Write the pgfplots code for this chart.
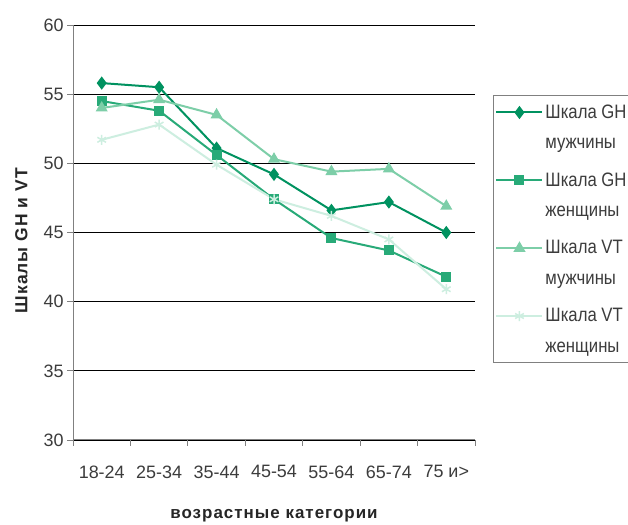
\documentclass[border=0pt]{standalone}
\usepackage{fontspec}
\setmainfont{Liberation Sans}
\newfontfamily\labfont{Liberation Sans}[LetterSpace=6]
\newfontfamily\legfont{Liberation Sans}[FakeStretch=0.86]
\usepackage{pgfplots}
\pgfplotsset{compat=1.18}
\definecolor{ghm}{RGB}{0,146,96}
\definecolor{ghw}{RGB}{40,170,120}
\definecolor{vtm}{RGB}{125,206,168}
\definecolor{vtw}{RGB}{205,238,224}
\definecolor{txt}{RGB}{60,60,60}
\begin{document}
\begin{tikzpicture}[x=1bp,y=1bp]
\useasboundingbox (0,0) rectangle (628,525);
\clip (0,0) rectangle (628,525);
\fill[white] (0,0) rectangle (628,525);
\begin{axis}[
  scale only axis, width=402bp, height=415bp,
  at={(73bp,85bp)}, anchor=south west,
  xmin=-0.5, xmax=6.5, ymin=30, ymax=60,
  xtick={-0.5,0.5,...,6.5},
  x tick label as interval,
  xticklabels={18-24,25-34,35-44,45-54,55-64,65-74,75 и>},
  ytick={30,35,...,60},
  axis x line*=bottom, axis y line*=left,
  axis line style={gray, line width=1bp},
  ymajorgrids, grid style={black, line width=0.9bp},
  tick align=outside, major tick length=6bp,
  tick style={gray, line width=0.8bp},
  /pgf/number format/assume math mode=true,
  tick label style={font=\fontsize{18}{20}\selectfont, text=txt},
  xticklabel style={yshift=-16bp},
  ylabel={\labfont\bfseries\fontsize{17.5}{20}\selectfont Шкалы GH и VT},
  xlabel={\labfont\bfseries\fontsize{17}{20}\selectfont возрастные категории},
  ylabel style={text=black!85, at={(axis description cs:0,0.48)}, yshift=42bp},
  xlabel style={text=black!85, yshift=-24bp},
  legend style={at={(1.045,0.831)}, anchor=north west, draw=gray, line width=0.8bp,
    font=\legfont\fontsize{19.5}{28}\selectfont, text=txt,
    cells={anchor=west, align=left}, row sep=18bp, inner xsep=2bp, inner ysep=7bp},
  legend image code/.code={
    \path (0bp,-15.5bp) (46bp,15.5bp);
    \draw[#1, mark repeat=2, mark phase=2, yshift=15bp] plot coordinates {(0bp,0bp) (23bp,0bp) (46bp,0bp)};},
  every axis plot/.append style={line width=2bp},
]
\addplot[ghm, mark=diamond*, mark size=5bp] coordinates {(0,55.8) (1,55.5) (2,51.1) (3,49.2) (4,46.6) (5,47.2) (6,45.0)};
\addlegendentry{Шкала GH\\[3bp]мужчины}
\addplot[ghw, mark=square*, mark size=4bp] coordinates {(0,54.5) (1,53.8) (2,50.6) (3,47.4) (4,44.6) (5,43.7) (6,41.8)};
\addlegendentry{Шкала GH\\[3bp]женщины}
\addplot[vtm, mark=triangle*, mark size=5bp] coordinates {(0,54.0) (1,54.6) (2,53.5) (3,50.3) (4,49.4) (5,49.6) (6,46.9)};
\addlegendentry{Шкала VT\\[3bp]мужчины}
\addplot[vtw, mark=asterisk, mark size=5bp, mark options={line width=1.5bp}] coordinates {(0,51.7) (1,52.8) (2,49.9) (3,47.4) (4,46.2) (5,44.5) (6,40.9)};
\addlegendentry{Шкала VT\\[3bp]женщины}
\end{axis}
\end{tikzpicture}
\end{document}
